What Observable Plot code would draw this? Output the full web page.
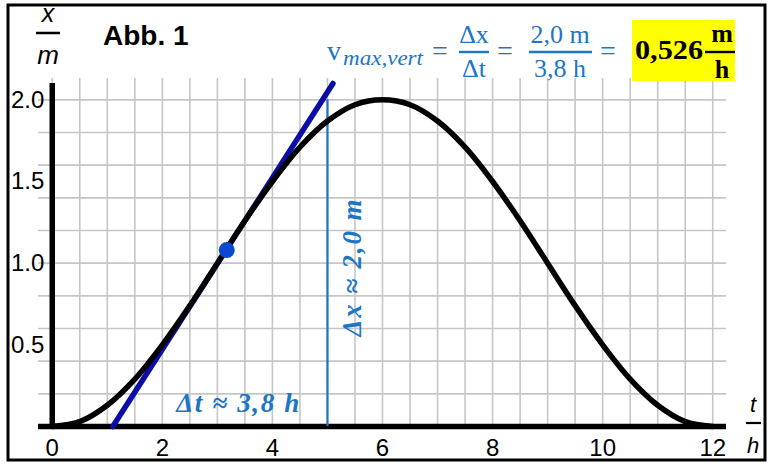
<!DOCTYPE html>
<html>
<head>
<meta charset="utf-8">
<script src="https://cdn.jsdelivr.net/npm/d3@7"></script>
<script src="https://cdn.jsdelivr.net/npm/@observablehq/plot@0.6"></script>
<style>
  html, body { margin: 0; padding: 0; background: #fff; }
  svg { display: block; }
</style>
</head>
<body>
<div id="chart"></div>
<script>
// ---- data ----
const tHours  = [0, 0.5, 1, 1.5, 2, 2.5, 3, 3.5, 4, 4.5, 5, 5.5, 6, 6.5, 7, 7.5, 8, 8.5, 9, 9.5, 10, 10.5, 11, 11.5, 12];
const xMeters = [0, 0.03, 0.13, 0.29, 0.50, 0.74, 1.00, 1.26, 1.50, 1.71, 1.87, 1.97, 2.00, 1.97, 1.87, 1.71, 1.50, 1.26, 1.00, 0.74, 0.50, 0.29, 0.13, 0.03, 0];

const tangentT = [1.1, 5.1];
const tangentX = [0, 2.1];
const pointT = [3.17];
const pointX = [1.08];
const deltaLineT = [5.0];
const deltaLineX = [0, 2.0];

const xTicks = [0, 2, 4, 6, 8, 10, 12];
const yTicks = [0.5, 1.0, 1.5, 2.0];
const yTickLabels = ["0.5", "1.0", "1.5", "2.0"];
const xGrid = [0, 0.5, 1, 1.5, 2, 2.5, 3, 3.5, 4, 4.5, 5, 5.5, 6, 6.5, 7, 7.5, 8, 8.5, 9, 9.5, 10, 10.5, 11, 11.5, 12];
const yGrid = [0.2, 0.4, 0.6, 0.8, 1.0, 1.2, 1.4, 1.6, 1.8, 2.0];

const curve = tHours.map((t, i) => ({t, x: xMeters[i]}));
const tangent = tangentT.map((t, i) => ({t, x: tangentX[i]}));
const point = pointT.map((t, i) => ({t, x: pointX[i]}));
const yTickData = yTicks.map((v, i) => ({v, label: yTickLabels[i]}));

const BLUE = "#1b76c6";
const SERIF = "'Liberation Serif', 'Times New Roman', serif";

const chart = Plot.plot({
  width: 771,
  height: 472,
  marginLeft: 38,
  marginRight: 45,
  marginTop: 83,
  marginBottom: 46,
  x: {domain: [-0.25, 12.25], axis: null},
  y: {domain: [0, 2.1], axis: null},
  style: {background: "white", fontFamily: "'Liberation Sans', Arial, sans-serif", overflow: "visible"},
  marks: [
    Plot.ruleX(xGrid, {y1: 0, y2: 2.13, stroke: "#c6c6c6", strokeWidth: 1.6}),
    Plot.ruleY(yGrid, {stroke: "#c6c6c6", strokeWidth: 1.6}),
    Plot.ruleY([0], {stroke: "black", strokeWidth: 5.5}),
    Plot.ruleX([0], {stroke: "black", strokeWidth: 5.5}),
    Plot.ruleX(deltaLineT, {y1: deltaLineX[0], y2: deltaLineX[1], stroke: BLUE, strokeWidth: 2.2}),
    Plot.line(tangent, {x: "t", y: "x", stroke: "#0c0ca6", strokeWidth: 5.5}),
    Plot.line(curve, {x: "t", y: "x", stroke: "black", strokeWidth: 5.5, curve: "catmull-rom"}),
    Plot.dot(point, {x: "t", y: "x", r: 8, fill: "#0b48d2", stroke: "none"}),
    Plot.text(xTicks, {x: d => d, y: 0, dy: 22, text: d => String(d), fontSize: 24, fill: "black", textAnchor: "middle"}),
    Plot.text(yTickData, {x: 0, y: "v", dx: -8, text: "label", fontSize: 24, fill: "black", textAnchor: "end"}),
    Plot.text(["\u0394t \u2248 3,8 h"], {x: 3.37, y: 0.14, fontSize: 27, fontWeight: "bold", fontStyle: "italic", fontFamily: SERIF, fill: BLUE}),
    Plot.text(["\u0394x \u2248 2,0 m"], {x: 5.455, y: 0.97, rotate: -90, fontSize: 27, fontWeight: "bold", fontStyle: "italic", fontFamily: SERIF, fill: BLUE})
  ]
});

document.getElementById("chart").appendChild(chart);

const svg = d3.select(chart);

// stretch the two delta labels to the reference widths
svg.selectAll("text").each(function() {
  const s = this.textContent;
  if (s.startsWith("\u0394t")) d3.select(this).attr("textLength", 123).attr("lengthAdjust", "spacing");
  if (s.startsWith("\u0394x")) d3.select(this).attr("textLength", 137).attr("lengthAdjust", "spacing");
});

// ---- annotations (title, unit labels, formula, frame) ----
const g = svg.append("g");
const sans = "'Liberation Sans', Arial, sans-serif";

function txt(s, x, y, opts = {}) {
  const t = g.append("text").text(s).attr("x", x).attr("y", y)
    .attr("font-family", opts.family || SERIF)
    .attr("font-size", opts.size || 26)
    .attr("fill", opts.fill || BLUE)
    .attr("text-anchor", opts.anchor || "start");
  if (opts.weight) t.attr("font-weight", opts.weight);
  if (opts.style) t.attr("font-style", opts.style);
  if (opts.len) t.attr("textLength", opts.len).attr("lengthAdjust", "spacingAndGlyphs");
  return t;
}
function bar(x1, x2, y, w, color) {
  g.append("line").attr("x1", x1).attr("x2", x2).attr("y1", y).attr("y2", y)
    .attr("stroke", color).attr("stroke-width", w);
}

// title
txt("Abb. 1", 103, 45, {family: sans, size: 28, weight: "bold", fill: "black"});

// y unit label x / m
txt("x", 48, 22, {family: sans, size: 25, style: "italic", fill: "black", anchor: "middle"});
bar(36, 60, 33, 2.5, "black");
txt("m", 48, 64, {family: sans, size: 26, style: "italic", fill: "black", anchor: "middle"});

// x unit label t / h
txt("t", 753, 412, {family: sans, size: 22, style: "italic", fill: "black", anchor: "middle"});
bar(746, 761, 423, 2.2, "black");
txt("h", 753, 453, {family: sans, size: 22, style: "italic", fill: "black", anchor: "middle"});

// formula
txt("v", 327, 60, {size: 28});
txt("max,vert", 343, 65, {size: 20, style: "italic", len: 80});
txt("=", 440, 60, {size: 28, anchor: "middle"});
txt("\u0394x", 474, 43, {size: 26, anchor: "middle"});
bar(459, 489, 52, 2.4, BLUE);
txt("\u0394t", 474, 77, {size: 26, anchor: "middle"});
txt("=", 505, 60, {size: 28, anchor: "middle"});
txt("2,0 m", 560, 43, {size: 26, anchor: "middle"});
bar(529, 592, 52, 2.4, BLUE);
txt("3,8 h", 560, 77, {size: 26, anchor: "middle"});
txt("=", 608, 60, {size: 28, anchor: "middle"});

g.append("rect").attr("x", 632).attr("y", 20).attr("width", 103).attr("height", 61).attr("fill", "#ffff00");
txt("0,526", 635, 59, {size: 27, weight: "bold", fill: "black", len: 68});
txt("m", 722, 42, {size: 26, weight: "bold", fill: "black", anchor: "middle"});
bar(705, 735, 52, 2.4, "black");
txt("h", 722, 78, {size: 26, weight: "bold", fill: "black", anchor: "middle"});

// outer frame
g.append("rect").attr("x", 8).attr("y", 5).attr("width", 757).attr("height", 455)
  .attr("fill", "none").attr("stroke", "black").attr("stroke-width", 3);
</script>
</body>
</html>
